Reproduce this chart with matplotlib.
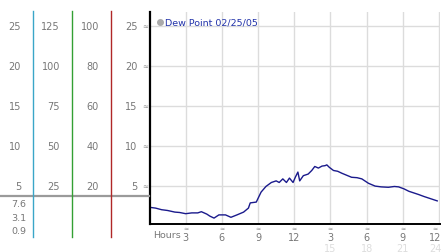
import numpy as np
import matplotlib
matplotlib.use("Agg")
import matplotlib.pyplot as plt
from matplotlib import transforms
from matplotlib.lines import Line2D

# dew point trace (hours, degrees)
hours = [0.0, 0.5, 1.0, 1.5, 2.1, 2.5, 3.0, 3.5, 4.0, 4.3, 4.75, 5.0, 5.35, 5.75,
         6.3, 6.75, 7.25, 7.8, 8.2, 8.35, 8.85, 9.25, 9.65, 10.1, 10.5, 10.75,
         11.05, 11.35, 11.6, 11.9, 12.1, 12.3, 12.45, 12.75, 13.15, 13.45, 13.7,
         14.0, 14.3, 14.55, 14.7, 14.9, 15.25, 15.6, 15.95, 16.35, 16.75, 17.2,
         17.6, 18.15, 18.7, 19.2, 19.8, 20.3, 20.65, 21.1, 21.5, 21.9, 22.3,
         22.75, 23.15, 23.55, 23.85]
dewpt = [2.3, 2.2, 2.0, 1.9, 1.7, 1.65, 1.5, 1.6, 1.6, 1.75, 1.45, 1.2, 0.95, 1.35,
         1.35, 1.05, 1.35, 1.7, 2.2, 2.85, 2.95, 4.2, 4.9, 5.4, 5.6, 5.4,
         5.85, 5.4, 5.95, 5.4, 6.1, 6.7, 5.6, 6.25, 6.45, 6.9, 7.4,
         7.2, 7.45, 7.5, 7.6, 7.3, 6.9, 6.8, 6.55, 6.3, 6.05, 6.0,
         5.85, 5.3, 4.95, 4.85, 4.8, 4.9, 4.85, 4.6, 4.3, 4.1, 3.9,
         3.65, 3.45, 3.25, 3.1]

legend_label = "Dew Point 02/25/05"
x_ticks = [3, 6, 9, 12, 15, 18, 21, 24]
x_labels = ["3", "6", "9", "12", "3", "6", "9", "12"]
x_labels2 = ["", "", "", "", "15", "18", "21", "24"]
y_ticks = [25, 20, 15, 10, 5]
scale_a = [25, 20, 15, 10, 5]
scale_b = [125, 100, 75, 50, 25]
scale_c = [100, 80, 60, 40, 20]
scale_d = [25, 20, 15, 10, 5]
summary = ["7.6", "3.1", "0.9"]

W, H = 442, 253
fig = plt.figure(figsize=(W / 100, H / 100), dpi=100)
fig.patch.set_facecolor("white")


def fx(px):
    return px / W


def fy(py):
    return 1 - py / H


ax = fig.add_axes([fx(149.5), fy(224.5), (440 - 149.5) / W, (224.5 - 13) / H])
ax.plot(hours, dewpt, color="#1a1a8c", lw=1.0)
ax.set_xlim(0, 24.08)
ax.set_ylim(0.275, 26.7)
ax.set_xticks(x_ticks)
ax.set_yticks(y_ticks)
ax.grid(True, color="#dcdcdc", lw=1)
ax.tick_params(length=0, labelbottom=False, labelleft=False)
for s in ["top", "right"]:
    ax.spines[s].set_visible(False)
ax.spines["left"].set_linewidth(1.6)
ax.spines["bottom"].set_linewidth(1.4)
ax.spines["left"].set_color("black")
ax.spines["bottom"].set_color("black")

# legend
ax.plot([0.035], [0.955], "o", ms=4, color="#aaaaaa", transform=ax.transAxes, clip_on=False)
ax.text(0.055, 0.955, legend_label, transform=ax.transAxes, color="#2233aa",
        fontsize=6.8, va="center", ha="left")

grey = "#777777"
mark = "#8c8c8c"
# bottom labels
bt = transforms.blended_transform_factory(ax.transData, fig.transFigure)
ax.text(1.45, fy(236), "Hours", transform=bt, fontsize=6.8, color=grey,
        ha="center", va="center")
for t, l1, l2 in zip(x_ticks, x_labels, x_labels2):
    tx = min(t, 23.67)
    ax.text(tx, fy(229), "≈", transform=bt, fontsize=4.5, color=mark,
            ha="center", va="center")
    ax.text(tx, fy(238), l1, transform=bt, fontsize=7, color=grey,
            ha="center", va="center")
    ax.text(tx, fy(249), l2, transform=bt, fontsize=7, color="#dddddd",
            ha="center", va="center")

# left scale panel
lt = transforms.blended_transform_factory(fig.transFigure, ax.transData)
for i, v in enumerate(y_ticks):
    fig.text(fx(21), v, str(scale_a[i]), transform=lt, fontsize=7, color=grey,
             ha="right", va="center")
    fig.text(fx(60), v, str(scale_b[i]), transform=lt, fontsize=7, color=grey,
             ha="right", va="center")
    fig.text(fx(99), v, str(scale_c[i]), transform=lt, fontsize=7, color=grey,
             ha="right", va="center")
    fig.text(fx(137.5), v, str(scale_d[i]), transform=lt, fontsize=7, color=grey,
             ha="right", va="center")
    fig.text(fx(145.5), v, "≈", transform=lt, fontsize=5, color=mark,
             ha="center", va="center")

for yy, s in zip([204.5, 219, 231.5], summary):
    fig.text(fx(26.5), fy(yy), s, fontsize=6.8, color=grey, ha="right", va="center")

fig.add_artist(Line2D([0, fx(149)], [fy(196.7)] * 2, color="#9a9a9a", lw=1.6))
for xx, c in [(33.3, "#3aa6c8"), (72.3, "#33a033"), (111, "#b02828")]:
    fig.add_artist(Line2D([fx(xx)] * 2, [fy(12), fy(237.5)], color=c, lw=1.0))

fig.savefig("out.png", dpi=100)
